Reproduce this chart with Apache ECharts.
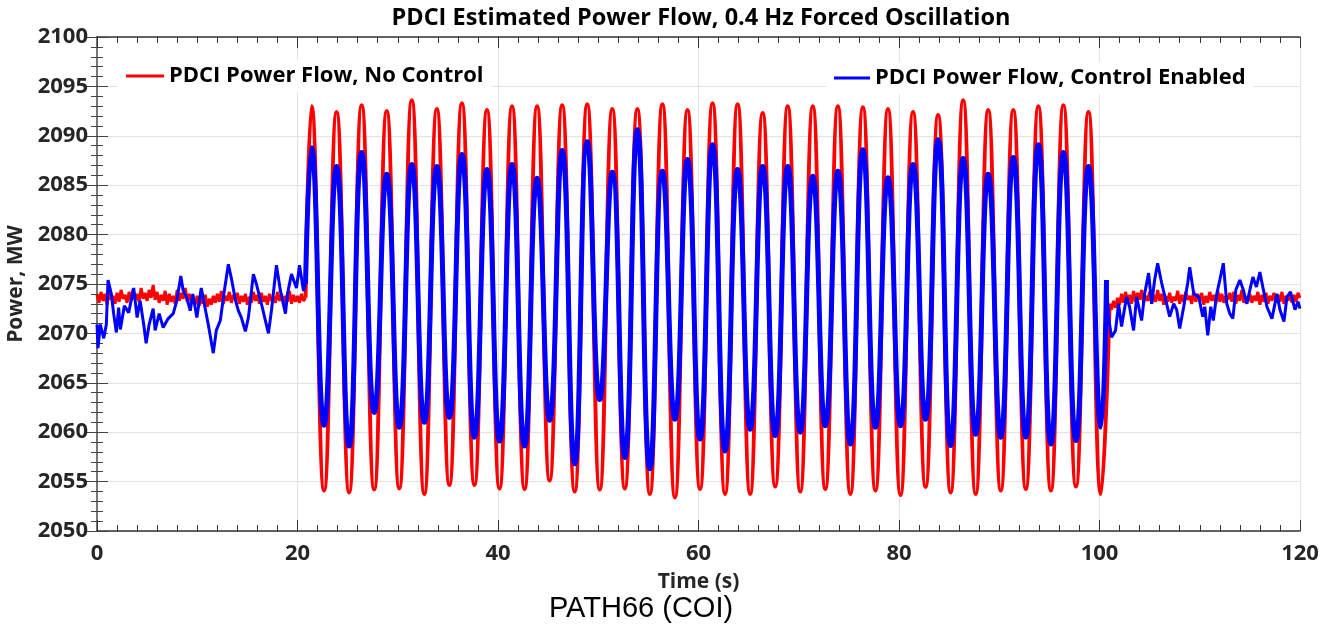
<!DOCTYPE html>
<html>
<head>
<meta charset="utf-8">
<title>PDCI Estimated Power Flow</title>
<script src="https://cdn.jsdelivr.net/npm/echarts@6/dist/echarts.min.js"></script>
<style>
  html, body { margin: 0; padding: 0; background: #fff; }
  #chart { width: 1323px; height: 629px; }
</style>
</head>
<body>
<div id="chart"></div>
<script>
// ---- data ----
const NAME_RED = 'PDCI Power Flow, No Control';
const NAME_BLUE = 'PDCI Power Flow, Control Enabled';

// red, flat part before the oscillation: one sample every 0.2 s from t = 0
const redPreStep = 0.2;
const redPre = [
    2073.9, 2073.1, 2074.2, 2073.3, 2074.0, 2072.9, 2074.3, 2073.4, 2073.8, 2073.0,
    2074.1, 2073.2, 2074.4, 2073.5, 2073.9, 2073.1, 2074.2, 2073.3, 2074.5, 2073.4,
    2074.0, 2073.2, 2074.6, 2073.5, 2074.1, 2073.3, 2074.4, 2073.6, 2074.9, 2073.4,
    2074.2, 2073.1, 2073.9, 2073.3, 2074.3, 2072.9, 2074.0, 2073.2, 2073.8, 2073.0,
    2074.4, 2073.3, 2074.1, 2073.5, 2074.6, 2073.2, 2074.0, 2073.1, 2073.7, 2072.9,
    2073.8, 2072.8, 2073.6, 2073.0, 2073.9, 2072.7, 2073.5, 2072.9, 2073.8, 2073.1,
    2074.0, 2073.2, 2074.3, 2073.0, 2073.8, 2073.3, 2074.2, 2073.1, 2073.9, 2073.4,
    2074.1, 2073.0, 2073.8, 2073.2, 2074.0, 2072.9, 2073.7, 2073.1, 2074.2, 2073.3,
    2073.9, 2073.0, 2074.1, 2073.2, 2073.8, 2072.9, 2074.0, 2073.3, 2073.7, 2073.1,
    2074.2, 2073.3, 2074.0, 2073.1, 2073.8, 2073.2, 2074.3, 2073.0, 2073.9, 2073.2,
    2073.8, 2073.1, 2074.0, 2073.3, 2073.6
];
// red, flat part after the oscillation: every 0.2 s from t = 101
const redPostStart = 101;
const redPost = [
    2073.0, 2072.4, 2073.3, 2072.6, 2073.6, 2072.9, 2074.0, 2073.1, 2074.2, 2073.3,
    2073.9, 2073.0, 2074.3, 2073.2, 2074.1, 2073.4, 2074.4, 2073.1, 2073.8, 2073.3,
    2074.2, 2073.0, 2073.9, 2073.2, 2074.4, 2073.3, 2074.0, 2072.9, 2073.8, 2073.2,
    2074.1, 2073.1, 2073.7, 2073.3, 2074.3, 2073.0, 2073.9, 2073.2, 2074.2, 2073.4,
    2073.8, 2073.0, 2074.3, 2073.2, 2074.0, 2073.3, 2074.1, 2072.9, 2073.8, 2073.1,
    2074.2, 2073.3, 2073.9, 2073.0, 2074.3, 2073.2, 2074.0, 2073.1, 2073.8, 2073.4,
    2074.1, 2073.2, 2074.2, 2073.0, 2073.9, 2073.3, 2074.4, 2073.1, 2073.7, 2073.2,
    2074.0, 2073.1, 2073.8, 2073.3, 2074.2, 2072.9, 2073.9, 2073.2, 2074.1, 2073.0,
    2073.8, 2073.3, 2074.1, 2073.1, 2073.9, 2073.2, 2074.2, 2073.0, 2073.8, 2073.3,
    2074.0, 2073.1, 2073.9, 2073.2, 2074.1, 2073.6
];

// blue, before and after the oscillation: [time s, MW]
const bluePre = [
    [0, 2070.9], [0.1, 2068.5], [0.33, 2070.9], [0.67, 2069.5], [0.93, 2070.9],
    [1.1, 2075.4], [1.43, 2074.0], [1.66, 2072.0], [1.93, 2070.1], [2.16, 2072.6],
    [2.33, 2070.4], [2.73, 2072.8], [3.16, 2072.1], [3.66, 2074.6], [4.0, 2071.6],
    [4.3, 2073.3], [4.66, 2070.9], [4.9, 2069.0], [5.2, 2070.9], [5.6, 2072.5],
    [5.8, 2070.3], [6.2, 2072.0], [6.6, 2070.6], [7.1, 2071.5], [7.6, 2072.0],
    [7.96, 2073.3], [8.36, 2075.8], [8.6, 2074.3], [8.96, 2073.6], [9.3, 2072.3],
    [9.56, 2074.0], [9.96, 2071.6], [10.4, 2074.6], [10.7, 2073.0], [11.1, 2070.9],
    [11.6, 2068.0], [11.9, 2070.3], [12.3, 2071.3], [12.7, 2074.3], [13.1, 2077.0],
    [13.4, 2075.6], [13.8, 2073.4], [14.1, 2072.3], [14.4, 2071.6], [14.8, 2070.2],
    [15.1, 2071.6], [15.6, 2076.0], [15.9, 2075.0], [16.4, 2073.0], [16.8, 2071.3],
    [17.1, 2070.0], [17.4, 2072.3], [17.9, 2076.9], [18.3, 2074.3], [18.8, 2072.0],
    [19.0, 2074.0], [19.4, 2076.0], [19.9, 2074.6], [20.2, 2076.9], [20.6, 2074.3],
    [20.8, 2075.0]
];
const bluePost = [
    [100.7, 2075.4], [100.9, 2071.7], [101.2, 2069.6], [101.6, 2070.3], [101.9, 2073.0],
    [102.2, 2070.7], [102.7, 2073.7], [103.0, 2072.7], [103.4, 2070.3], [103.7, 2073.7],
    [104.2, 2071.3], [104.5, 2074.0], [104.9, 2076.1], [105.2, 2073.0], [105.5, 2075.4],
    [105.8, 2077.1], [106.2, 2075.1], [106.6, 2073.4], [107.0, 2071.7], [107.4, 2073.0],
    [107.7, 2072.4], [108.0, 2070.5], [108.4, 2072.7], [108.8, 2075.1], [109.0, 2076.7],
    [109.4, 2074.0], [109.9, 2073.7], [110.3, 2071.7], [110.5, 2072.7], [110.8, 2069.8],
    [111.1, 2072.7], [111.35, 2071.3], [111.7, 2074.0], [112.0, 2075.4], [112.35, 2077.1],
    [112.7, 2073.0], [113.0, 2072.0], [113.3, 2071.5], [113.6, 2074.4], [114.0, 2075.4],
    [114.35, 2074.4], [114.7, 2073.0], [115.0, 2074.4], [115.3, 2075.7], [115.65, 2074.7],
    [116.0, 2076.2], [116.35, 2074.4], [116.7, 2072.7], [117.2, 2071.5], [117.7, 2074.0],
    [118.0, 2072.4], [118.4, 2071.2], [118.7, 2073.7], [119.05, 2074.2], [119.5, 2072.4],
    [119.8, 2073.2], [120, 2072.5]
];

// forced oscillation 0.4 Hz: first peak at 21.4 s, troughs half a period later
const oscFirstPeak = 21.4;
const oscPeriod = 2.5;
const redPeaks = [
    2093.0, 2092.4, 2093.1, 2092.5, 2093.6, 2092.7, 2093.3, 2092.6, 2093.0, 2093.0, 2093.1, 2093.2,
    2092.7, 2092.7, 2093.2, 2092.6, 2093.3, 2093.2, 2092.3, 2093.0, 2093.0, 2093.0, 2092.9,
    2092.7, 2092.4, 2092.1, 2093.6, 2092.6, 2092.6, 2093.0, 2093.1, 2092.4
];
const redTroughs = [
    2054.1, 2053.9, 2054.2, 2054.3, 2053.75, 2054.65, 2054.65, 2054.3, 2054.25, 2055.1, 2054.0, 2054.2,
    2054.3, 2053.75, 2053.4, 2054.25, 2053.75, 2053.75, 2054.5, 2054.0, 2054.25, 2053.75, 2054.1,
    2053.65, 2054.45, 2053.9, 2053.75, 2054.1, 2054.25, 2054.1, 2054.5, 2053.75
];
const bluePeaks = [
    2088.8, 2086.9, 2088.3, 2086.1, 2087.1, 2086.9, 2088.1, 2086.6, 2087.1, 2085.7, 2088.5, 2089.4,
    2086.3, 2090.6, 2086.4, 2087.6, 2089.1, 2086.6, 2086.9, 2086.9, 2085.9, 2086.4, 2088.6,
    2085.75, 2087.1, 2089.6, 2087.7, 2086.1, 2087.8, 2089.1, 2088.3, 2086.9
];
const blueTroughs = [
    2060.7, 2058.6, 2062.0, 2060.5, 2061.0, 2061.5, 2059.5, 2059.1, 2058.6, 2061.2, 2056.8, 2063.3,
    2057.45, 2056.3, 2061.3, 2059.3, 2058.1, 2060.3, 2059.65, 2060.0, 2060.65, 2058.8, 2060.5,
    2060.65, 2061.3, 2058.65, 2059.8, 2059.5, 2059.5, 2058.8, 2059.15, 2060.5
];

const xTicks = [0, 20, 40, 60, 80, 100, 120];
const yTicks = [2050, 2055, 2060, 2065, 2070, 2075, 2080, 2085, 2090, 2095, 2100];

// ---- build series data ----
function sampled(start, step, values) {
    return values.map(function (v, i) { return [+(start + i * step).toFixed(2), v]; });
}
function oscillation(startPt, peaks, troughs, endPt) {
    let pts = [startPt];
    for (let k = 0; k < peaks.length; k++) {
        let tp = oscFirstPeak + k * oscPeriod;
        pts.push([+tp.toFixed(2), peaks[k]]);
        pts.push([+(tp + oscPeriod / 2).toFixed(2), troughs[k]]);
    }
    pts.push(endPt);
    return pts;
}

const redPreData = sampled(0, redPreStep, redPre);
const redPostData = sampled(redPostStart, redPreStep, redPost);
const redOscData = oscillation(redPreData[redPreData.length - 1], redPeaks, redTroughs, redPostData[0]);
const blueOscData = oscillation(bluePre[bluePre.length - 1], bluePeaks, blueTroughs, bluePost[0]);

const RED = '#ff0000';
const BLUE = '#0000ff';
const FONT = '"Open Sans", Lato, sans-serif';
const TXT = '#262626';

function line(name, color, width, data, smooth) {
    return {
        name: name,
        type: 'line',
        data: data,
        showSymbol: false,
        smooth: smooth,
        color: color,
        lineStyle: { color: color, width: width },
        emphasis: { disabled: true },
        animation: false
    };
}

let chart = echarts.init(document.getElementById('chart'));
chart.setOption({
    animation: false,
    title: {
        text: 'PDCI Estimated Power Flow, 0.4 Hz Forced Oscillation',
        left: 696,
        textAlign: 'center',
        top: 1,
        textStyle: { fontFamily: FONT, fontSize: 23.5, fontWeight: 'bold', color: '#000' }
    },
    graphic: [{
        type: 'text',
        x: 641,
        y: 594,
        style: {
            text: 'PATH66 (COI)',
            textAlign: 'center',
            fill: '#000',
            font: '29px "Liberation Sans", Arial, sans-serif'
        }
    }],
    legend: [{
        data: [NAME_RED],
        left: 118,
        top: 60,
        padding: [5, 8, 5, 8],
        backgroundColor: '#fff',
        icon: 'rect',
        itemWidth: 38,
        itemHeight: 3,
        itemGap: 6,
        selectedMode: false,
        textStyle: { fontFamily: FONT, fontSize: 22, fontWeight: 'bold', color: '#000' }
    }, {
        data: [NAME_BLUE],
        left: 826,
        top: 62,
        padding: [5, 8, 5, 8],
        backgroundColor: '#fff',
        icon: 'rect',
        itemWidth: 36,
        itemHeight: 3,
        itemGap: 6,
        selectedMode: false,
        textStyle: { fontFamily: FONT, fontSize: 22, fontWeight: 'bold', color: '#000' }
    }],
    grid: { left: 97, right: 23, top: 37, bottom: 98, outerBoundsMode: 'none' },
    xAxis: [{
        type: 'value',
        min: xTicks[0],
        max: xTicks[xTicks.length - 1],
        interval: 20,
        name: 'Time (s)',
        nameLocation: 'middle',
        nameGap: 41,
        nameTextStyle: { fontFamily: FONT, fontSize: 21, fontWeight: 'bold', color: TXT },
        axisLine: { lineStyle: { color: '#333', width: 1.5 } },
        axisTick: { inside: true, length: 11, lineStyle: { color: '#333' } },
        minorTick: { show: true, splitNumber: 10, length: 6, lineStyle: { color: '#333' } },
        axisLabel: { margin: 12, fontFamily: FONT, fontSize: 22, fontWeight: 'bold', color: TXT,
            formatter: function (v) { return String(v); } },
        splitLine: { show: true, lineStyle: { color: '#e2e2e2', width: 1 } }
    }, {
        type: 'value',
        position: 'top',
        min: xTicks[0],
        max: xTicks[xTicks.length - 1],
        interval: 20,
        axisLine: { show: true, lineStyle: { color: '#333', width: 1.5 } },
        axisTick: { show: true, inside: true, length: 11, lineStyle: { color: '#333' } },
        minorTick: { show: true, splitNumber: 10, length: 6, lineStyle: { color: '#333' } },
        axisLabel: { show: false },
        splitLine: { show: false }
    }],
    yAxis: [{
        type: 'value',
        min: yTicks[0],
        max: yTicks[yTicks.length - 1],
        interval: 5,
        name: 'Power, MW',
        nameLocation: 'middle',
        nameGap: 70,
        nameTextStyle: { fontFamily: FONT, fontSize: 21, fontWeight: 'bold', color: TXT },
        axisLine: { show: true, lineStyle: { color: '#6e6e6e', width: 1.5 } },
        axisTick: { show: true, inside: true, length: 11, lineStyle: { color: '#444' } },
        minorTick: { show: true, splitNumber: 5, length: 6, lineStyle: { color: '#444' } },
        axisLabel: { margin: 9, fontFamily: FONT, fontSize: 22, fontWeight: 'bold', color: TXT,
            formatter: function (v) { return String(v); } },
        splitLine: { show: true, lineStyle: { color: '#e2e2e2', width: 1 } }
    }, {
        type: 'value',
        position: 'right',
        min: yTicks[0],
        max: yTicks[yTicks.length - 1],
        interval: 5,
        axisLine: { show: true, lineStyle: { color: '#6e6e6e', width: 1.5 } },
        axisTick: { show: true, inside: true, length: 11, lineStyle: { color: '#444' } },
        minorTick: { show: true, splitNumber: 5, length: 6, lineStyle: { color: '#444' } },
        axisLabel: { show: false },
        splitLine: { show: false }
    }],
    series: [
        line(NAME_RED, RED, 3, redPreData, false),
        line(NAME_RED, RED, 4, redOscData, true),
        line(NAME_RED, RED, 3, redPostData, false),
        line(NAME_BLUE, BLUE, 3, bluePre, false),
        line(NAME_BLUE, BLUE, 5, blueOscData, true),
        line(NAME_BLUE, BLUE, 3, bluePost, false)
    ]
});
</script>
</body>
</html>
